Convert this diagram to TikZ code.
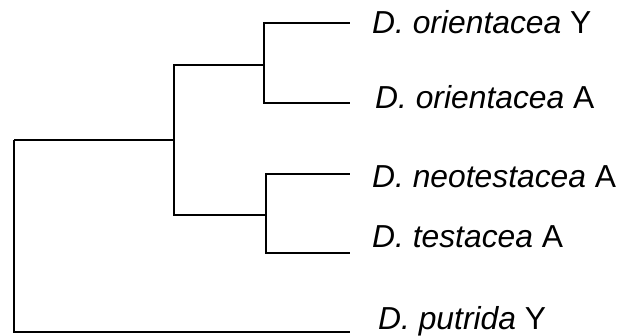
\documentclass[tikz,border=0pt]{standalone}
\usepackage{fontspec}
\setmainfont{Liberation Sans}
\begin{document}
\begin{tikzpicture}[x=1pt,y=-1pt,
  branch/.style={line width=1.6pt,line join=miter},
  taxon/.style={anchor=base west,inner sep=0pt,font=\fontsize{31.8}{38}\selectfont}]
\useasboundingbox (0,0) rectangle (621,336);
% internal nodes
\coordinate (r) at (14,140);
\coordinate (i) at (174,140);
\coordinate (u) at (264,65);
\coordinate (l) at (266,215);
% leaf ends
\coordinate (e1) at (350,23);
\coordinate (e2) at (350,103);
\coordinate (e3) at (350,174);
\coordinate (e4) at (350,253);
\coordinate (e5) at (350,332);
% labels
\node[taxon] (t1) at (372,34) {\textit{D. orientacea} Y};
\node[taxon] (t2) at (375,109) {\textit{D. orientacea} A};
\node[taxon] (t3) at (372,188) {\textit{D. neotestacea} A};
\node[taxon] (t4) at (372,248) {\textit{D. testacea} A};
\node[taxon] (t5) at (378,330) {\textit{D. putrida} Y};
% branches
\draw[branch] (r) -- (i);
\draw[branch] (i) |- (u);
\draw[branch] (i) |- (l);
\draw[branch] (u) |- (e1);
\draw[branch] (u) |- (e2);
\draw[branch] (l) |- (e3);
\draw[branch] (l) |- (e4);
\draw[branch] (r) |- (e5);
\end{tikzpicture}
\end{document}
